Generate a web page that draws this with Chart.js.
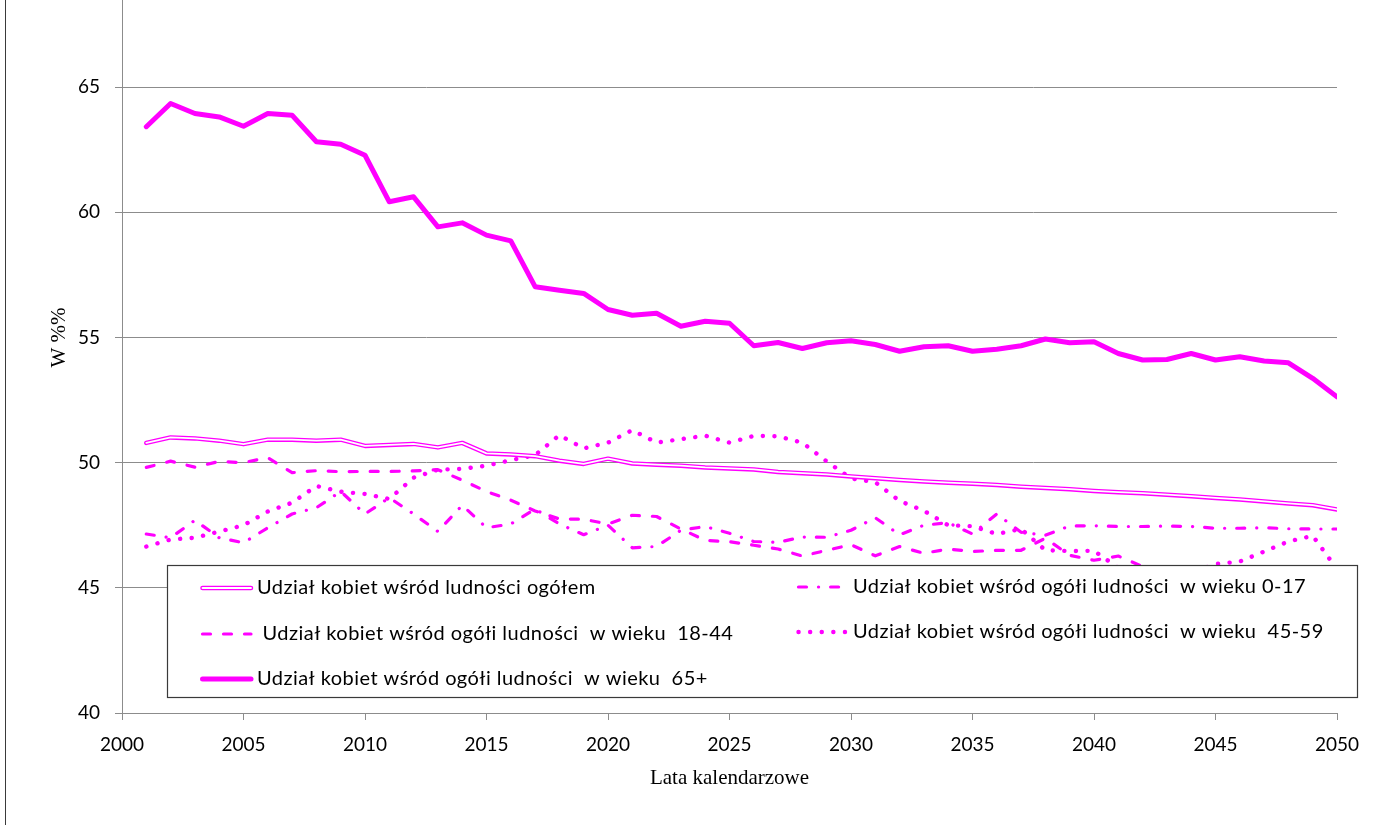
<!DOCTYPE html>
<html>
<head>
<meta charset="utf-8">
<script src="https://cdn.jsdelivr.net/npm/chart.js@4.4.0/dist/chart.umd.min.js"></script>
<style>
    html, body { margin: 0; padding: 0; background: #fff; overflow: hidden; }
    #frame { position: relative; width: 1392px; height: 825px; overflow: hidden; }
    #frame::before { content: ''; position: absolute; left: 5px; top: 0; bottom: 0; border-left: 1px solid #3a3a3a; }
    #graph { position: absolute; left: 0; top: -70px; }
</style>
</head>
<body>
<div id="frame">
    <canvas id="graph" width="1392" height="895"></canvas>
</div>
<script>
const years = [
    2001, 2002, 2003, 2004, 2005, 2006, 2007, 2008, 2009, 2010,
    2011, 2012, 2013, 2014, 2015, 2016, 2017, 2018, 2019, 2020,
    2021, 2022, 2023, 2024, 2025, 2026, 2027, 2028, 2029, 2030,
    2031, 2032, 2033, 2034, 2035, 2036, 2037, 2038, 2039, 2040,
    2041, 2042, 2043, 2044, 2045, 2046, 2047, 2048, 2049, 2050
]

// share of women, in %
const shareTotal = [
    50.79, 51.01, 50.97, 50.88, 50.74, 50.92, 50.92, 50.88, 50.92, 50.67,
    50.71, 50.75, 50.61, 50.79, 50.37, 50.33, 50.26, 50.08, 49.95, 50.16,
    49.97, 49.92, 49.88, 49.81, 49.77, 49.73, 49.63, 49.58, 49.53, 49.45,
    49.38, 49.31, 49.25, 49.20, 49.16, 49.11, 49.04, 48.99, 48.94, 48.87,
    48.82, 48.78, 48.72, 48.66, 48.59, 48.53, 48.45, 48.37, 48.30, 48.13
]
const share0to17 = [
    47.15, 47.00, 47.70, 47.00, 46.80, 47.40, 47.95, 48.20, 48.85, 47.95,
    48.60, 47.95, 47.25, 48.30, 47.40, 47.55, 48.15, 47.55, 47.12, 47.50,
    46.60, 46.65, 47.30, 47.45, 47.18, 46.85, 46.82, 47.03, 47.02, 47.30,
    47.80, 47.12, 47.50, 47.60, 47.15, 47.95, 47.22, 47.10, 47.47, 47.48,
    47.45, 47.45, 47.47, 47.45, 47.38, 47.38, 47.40, 47.36, 47.35, 47.35
]
const share18to44 = [
    49.81, 50.06, 49.82, 50.05, 50.00, 50.20, 49.60, 49.68, 49.64, 49.65,
    49.65, 49.67, 49.72, 49.30, 48.85, 48.50, 48.07, 47.75, 47.74, 47.55,
    47.90, 47.85, 47.35, 46.90, 46.84, 46.70, 46.55, 46.27, 46.50, 46.72,
    46.28, 46.65, 46.38, 46.55, 46.45, 46.50, 46.50, 46.98, 46.30, 46.10,
    46.27, 45.85, 45.60, 45.50, 45.40, 45.30, 45.25, 45.20, 45.10, 45.00
]
const share45to59 = [
    46.65, 46.93, 47.00, 47.25, 47.50, 48.05, 48.40, 49.07, 48.84, 48.75,
    48.55, 49.40, 49.72, 49.75, 49.88, 50.10, 50.30, 51.10, 50.57, 50.80,
    51.30, 50.80, 50.94, 51.08, 50.80, 51.07, 51.05, 50.80, 50.05, 49.37,
    49.22, 48.47, 48.08, 47.50, 47.46, 47.15, 47.35, 46.50, 46.47, 46.48,
    45.80, 45.50, 45.40, 45.60, 45.95, 46.05, 46.45, 46.85, 47.08, 45.75
]
const share65plus = [
    63.42, 64.35, 63.95, 63.81, 63.44, 63.95, 63.88, 62.82, 62.72, 62.28,
    60.42, 60.62, 59.42, 59.58, 59.09, 58.86, 57.03, 56.89, 56.76, 56.12,
    55.89, 55.97, 55.45, 55.65, 55.57, 54.67, 54.80, 54.56, 54.79, 54.87,
    54.72, 54.45, 54.63, 54.67, 54.45, 54.53, 54.67, 54.94, 54.79, 54.83,
    54.36, 54.10, 54.12, 54.36, 54.10, 54.23, 54.06, 53.99, 53.37, 52.63
]

const labelTotal = 'Udział kobiet wśród ludności ogółem'
const label0to17 = 'Udział kobiet wśród ogółi ludności  w wieku 0-17'
const label18to44 = ' Udział kobiet wśród ogółi ludności  w wieku  18-44'
const label45to59 = 'Udział kobiet wśród ogółi ludności  w wieku  45-59'
const label65plus = 'Udział kobiet wśród ogółi ludności  w wieku  65+'

const MAGENTA = '#ff00ff'
const GRID = '#8c8c8c'

const points = (values) => years.map((year, i) => ({x: year, y: values[i]}))

// canvas is shifted up by 70px so the plot top (70) sits above the window
const SHIFT = 70

// line styles, shared by the datasets and the hand drawn legend
const styles =
{
    total: {borderColor: MAGENTA, borderWidth: 4.5, double: true},
    young: {borderColor: MAGENTA, borderWidth: 3.2, borderDash: [8, 12, 0.1, 12]},
    adult: {borderColor: MAGENTA, borderWidth: 3.2, borderDash: [8, 13]},
    middle: {borderColor: MAGENTA, borderWidth: 4.4, borderDash: [0.1, 11.5]},
    old: {borderColor: MAGENTA, borderWidth: 5}
}

const legendEntries =
[
    {label: labelTotal, style: styles.total, x: 201, y: 588},
    {label: label18to44, style: styles.adult, x: 201, y: 634},
    {label: label65plus, style: styles.old, x: 201, y: 679},
    {label: label0to17, style: styles.young, x: 797, y: 587},
    {label: label45to59, style: styles.middle, x: 797, y: 632}
]

const legendBox =
{
    id: 'legendBox',
    afterDraw(chart)
    {
        const ctx = chart.ctx
        ctx.save()
        ctx.fillStyle = '#ffffff'
        ctx.fillRect(167, 565 + SHIFT, 1191, 133)
        ctx.strokeStyle = '#3a3a3a'
        ctx.lineWidth = 1.2
        ctx.strokeRect(167.5, 565.5 + SHIFT, 1190, 132)

        ctx.font = '20px Lato'
        ctx.letterSpacing = '0.45px'
        ctx.textBaseline = 'middle'
        ctx.fillStyle = '#000000'
        for (const entry of legendEntries)
        {
            const y = entry.y + SHIFT
            const s = entry.style
            ctx.lineCap = 'round'
            ctx.setLineDash(s.borderDash || [])
            ctx.strokeStyle = s.borderColor
            ctx.lineWidth = s.borderWidth
            ctx.beginPath()
            ctx.moveTo(entry.x + 1.5, y)
            ctx.lineTo(entry.x + 50, y)
            ctx.stroke()
            if (s.double)
            {
                ctx.strokeStyle = '#ffffff'
                ctx.lineWidth = 1.8
                ctx.stroke()
            }
            ctx.setLineDash([])
            ctx.fillText(entry.label, entry.x + 56, y)
        }
        ctx.restore()
    }
}

const line = (data, style, order, extra) => Object.assign(
{
    data: points(data),
    borderColor: style.borderColor,
    borderWidth: style.borderWidth,
    borderDash: style.borderDash || [],
    borderCapStyle: 'round',
    borderJoinStyle: 'round',
    pointRadius: 0,
    tension: 0,
    order: order
}, extra || {})

new Chart(document.querySelector('#graph'),
{
    type: 'line',
    data:
    {
        datasets:
        [
            line(shareTotal, {borderColor: '#ffffff', borderWidth: 1.8}, 0, {label: labelTotal + ' (inner)'}),
            line(shareTotal, styles.total, 1, {label: labelTotal}),
            line(share0to17, styles.young, 2, {label: label0to17}),
            line(share18to44, styles.adult, 3, {label: label18to44}),
            line(share45to59, styles.middle, 4, {label: label45to59}),
            line(share65plus, styles.old, 5, {label: label65plus})
        ]
    },
    options:
    {
        responsive: false,
        animation: false,
        // top padding larger than the y tick overhang, so it is the one that counts
        layout: {padding: {left: 0, right: 55, top: 32, bottom: 0}},
        plugins:
        {
            legend: {display: false},
            tooltip: {enabled: false}
        },
        scales:
        {
            x:
            {
                type: 'linear',
                min: 2000,
                max: 2050,
                ticks:
                {
                    stepSize: 5,
                    color: '#000000',
                    font: {family: 'Lato', size: 19},
                    padding: 13,
                    maxRotation: 0,
                    callback: (v) => String(v)
                },
                grid: {drawOnChartArea: false, color: GRID, tickLength: 7},
                border: {color: GRID},
                title:
                {
                    display: true,
                    text: 'Lata kalendarzowe',
                    color: '#000000',
                    font: {family: 'Liberation Serif', size: 21},
                    padding: {top: 0, bottom: 34}
                },
                afterFit: (scale) => { scale.height = 112 }
            },
            y:
            {
                min: 40,
                max: 70,
                ticks:
                {
                    stepSize: 5,
                    color: '#000000',
                    font: {family: 'Lato', size: 19},
                    padding: 15
                },
                grid: {color: GRID, tickLength: 7},
                border: {color: GRID},
                title:
                {
                    display: true,
                    text: 'W %%',
                    color: '#000000',
                    font: {family: 'Liberation Serif', size: 21},
                    padding: {top: 47, bottom: 0}
                },
                afterFit: (scale) => { scale.width = 122 }
            }
        }
    },
    plugins: [legendBox]
})
</script>
</body>
</html>
